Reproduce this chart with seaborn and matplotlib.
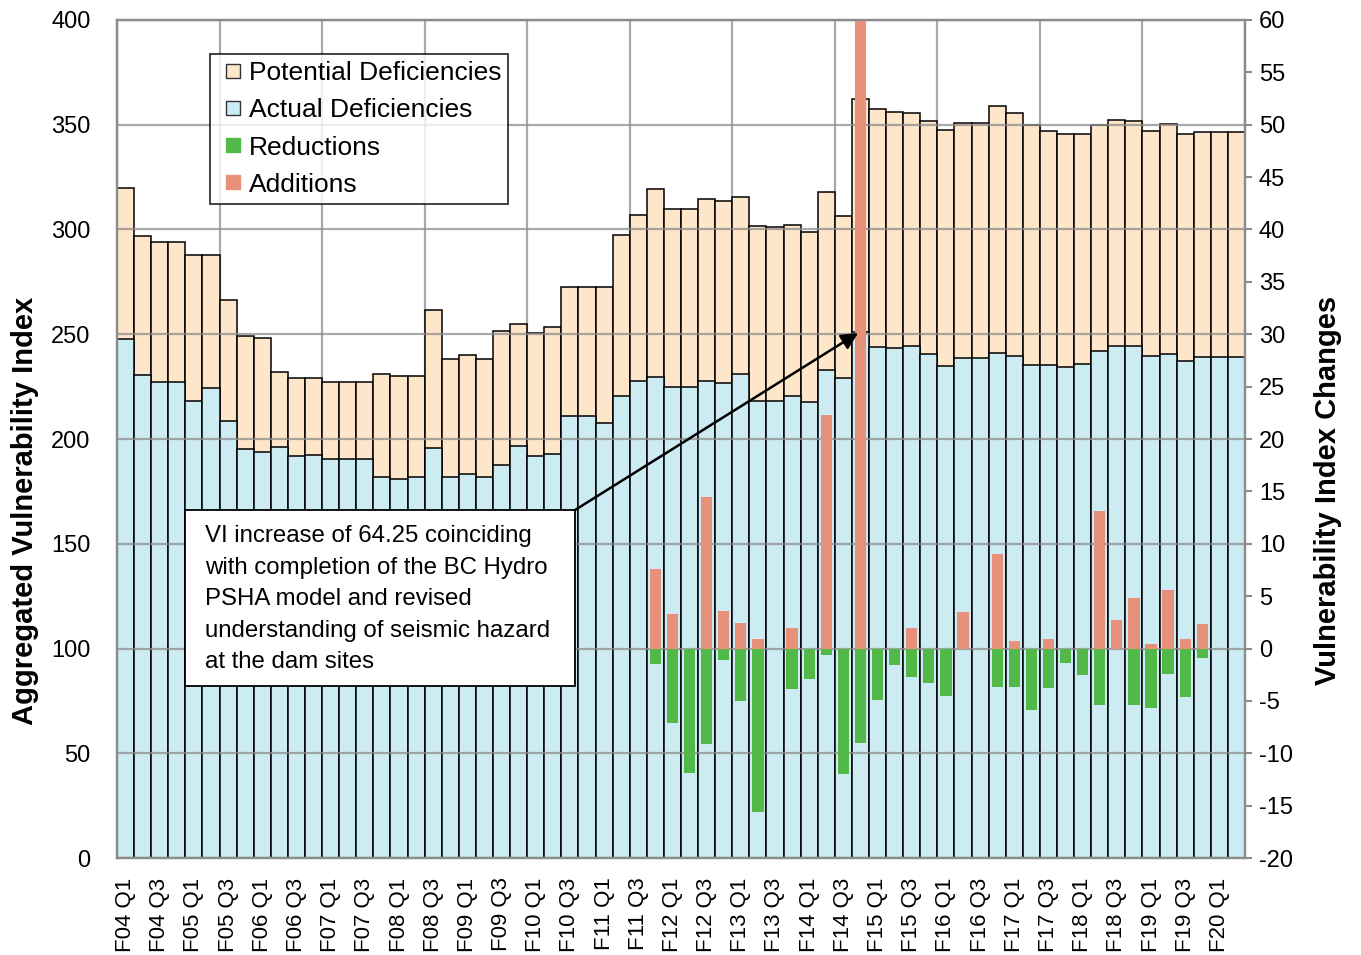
import numpy as np
import pandas as pd
import seaborn as sns
import matplotlib.pyplot as plt
from matplotlib.lines import Line2D
from matplotlib.patches import Rectangle

# --- DATOS ---
quarters = [f"F{y:02d} Q{q}" for y in range(4, 21) for q in range(1, 5)][:66]

total_vi = [320, 297, 294, 294, 288, 288, 266.5, 249, 248, 232, 229, 229,
            227, 227, 227, 231, 230, 230, 261.5, 238, 240, 238, 251.5, 255,
            250.5, 253.5, 272.5, 272.5, 272.5, 297.5, 307, 319.5, 310, 310,
            314.5, 313.5, 315.5, 301.5, 301, 302, 299, 318, 306.5, 362.5,
            357.5, 356, 355.5, 352, 347.5, 351, 351, 359, 355.5, 350,
            347, 345.5, 345.5, 350, 352.5, 352, 347, 350.5, 345.5, 346.5,
            346.5, 346.5]
actual_vi = [247.5, 230.5, 227, 227, 218, 224.5, 208.5, 195, 194, 196, 192, 192.5,
             190.5, 190.5, 190.5, 182, 181, 182, 195.5, 182, 183.5, 182, 187.5, 196.5,
             192, 193, 211, 211, 207.5, 220.5, 227.5, 229.5, 225, 225,
             227.5, 226.5, 231, 218, 218, 220.5, 217.5, 233, 229, 251,
             244, 243.5, 244.5, 240.5, 235, 238.5, 238.5, 241, 239.5, 235.5,
             235.5, 234.5, 236, 242, 244.5, 244.5, 239.5, 240.5, 237, 239,
             239, 239]
additions = [0] * 31 + [7.6, 3.3, 0, 14.5, 3.6, 2.4, 0.9, 0, 2.0, 0,
                        22.3, 0, 64.25, 0, 0, 2.0, 0, 0, 3.5, 0,
                        9.0, 0.7, 0, 0.9, 0, 0, 13.1, 2.7, 4.8, 0.4,
                        5.6, 0.9, 2.3, 0, 0]
reductions = [0] * 31 + [-1.5, -7.1, -11.9, -9.1, -1.1, -5.0, -15.6, 0, -3.9, -2.9,
                         -0.6, -12.0, -9.0, -4.9, -1.6, -2.7, -3.3, -4.5, 0, 0,
                         -3.7, -3.7, -5.9, -3.8, -1.4, -2.5, -5.4, 0, -5.4, -5.7,
                         -2.4, -4.6, -0.9, 0, 0]

# --- ESTILO ---
C_POTENCIAL = "#FDE6C9"
C_ACTUAL = "#CCEBF2"
C_REDUCCION = "#52B848"
C_ADICION = "#E8917A"
C_GRID = "#8C8C8C"

sns.set_theme(style="white")
plt.rcParams['font.family'] = ['Liberation Sans', 'DejaVu Sans']
plt.rcParams['axes.unicode_minus'] = False
plt.rcParams['text.color'] = 'black'

df = pd.DataFrame({"quarter": quarters, "total": total_vi, "actual": actual_vi,
                   "add": additions, "red": reductions})

fig = plt.figure(figsize=(13.61, 9.55), dpi=100)
ax = fig.add_axes([117 / 1361, 1 - 858 / 955, 1128 / 1361, 838 / 955])

sns.barplot(data=df, x="quarter", y="total", ax=ax, color=C_POTENCIAL, width=1.0,
            saturation=1, edgecolor="black", linewidth=1.1, errorbar=None)
sns.barplot(data=df, x="quarter", y="actual", ax=ax, color=C_ACTUAL, width=1.0,
            saturation=1, edgecolor="black", linewidth=1.1, errorbar=None)

ax2 = ax.twinx()
sns.barplot(data=df, x="quarter", y="add", ax=ax2, color=C_ADICION, width=0.66,
            saturation=1, linewidth=0, errorbar=None)
sns.barplot(data=df, x="quarter", y="red", ax=ax2, color=C_REDUCCION, width=0.66,
            saturation=1, linewidth=0, errorbar=None)

# ejes
ax.set_ylim(0, 400)
ax2.set_ylim(-20, 60)
ax.set_xlim(-0.5, len(quarters) - 0.5)
ax2.set_xlim(-0.5, len(quarters) - 0.5)
ax.set_yticks(np.arange(0, 401, 50))
ax2.set_yticks(np.arange(-20, 61, 5))
ax.set_xticks(range(0, len(quarters), 2))
ax.set_xticklabels(quarters[::2], rotation=90, fontsize=16)
ax.tick_params(axis="x", length=0, pad=14, labelcolor="black")
ax.tick_params(axis="y", length=0, pad=19, labelsize=17, labelcolor="black")
ax2.tick_params(axis="y", length=5, width=1.5, color=C_GRID, pad=5, labelsize=17,
                labelcolor="black")
ax.set_xlabel("")
ax.set_ylabel("")
ax2.set_ylabel("")

# rejilla por encima de las barras
ax.set_axisbelow(False)
ax.yaxis.grid(True, color=C_GRID, linewidth=1.6, alpha=0.75)
for k in range(0, len(quarters) + 1, 6):
    ax.axvline(k - 0.5, color=C_GRID, linewidth=1.6, alpha=0.75, zorder=0.5)

for a in (ax, ax2):
    for s in a.spines.values():
        s.set_color(C_GRID)
        s.set_linewidth(1.6)

fig.text(25 / 1361, 1 - 511 / 955, "Aggregated Vulnerability Index", rotation=90,
         ha="center", va="center", fontsize=21, fontweight="bold")
fig.text(1328 / 1361, 1 - 490 / 955, "Vulnerability Index Changes", rotation=90,
         ha="center", va="center", fontsize=21, fontweight="bold")

# leyenda (marcadores cuadrados)
def cuadro(color, borde):
    return Line2D([], [], linestyle="none", marker="s", markersize=9.5,
                  markerfacecolor=color, markeredgecolor=borde, markeredgewidth=1)

handles = [cuadro(C_POTENCIAL, "#333333"), cuadro(C_ACTUAL, "#333333"),
           cuadro(C_REDUCCION, C_REDUCCION), cuadro(C_ADICION, C_ADICION)]
labels = ["Potential Deficiencies", "Actual Deficiencies", "Reductions", "Additions"]
leg = ax2.legend(handles, labels, loc="upper left",
                 bbox_to_anchor=((210 - 117) / 1128, (858 - 54) / 838),
                 borderaxespad=0, fontsize=19, frameon=True, fancybox=False,
                 handlelength=1.2, handletextpad=0.0,
                 labelspacing=0.5, borderpad=0.27)
leg.get_frame().set_edgecolor("black")
leg.get_frame().set_linewidth(1.3)

# anotación
texto = ("VI increase of 64.25 coinciding\nwith completion of the BC Hydro\n"
         "PSHA model and revised\nunderstanding of seismic hazard\nat the dam sites")
ax2.add_patch(Rectangle(((185 - 117) / 1128, (858 - 686) / 838), 390 / 1128, 176 / 838,
                        transform=ax2.transAxes, facecolor="white", edgecolor="black",
                        linewidth=1.3, zorder=4))
ax2.annotate("", xy=(42.86, 250.6), xycoords=ax.transData,
             xytext=(26.3, 166.1), textcoords=ax.transData,
             arrowprops=dict(arrowstyle="-|>", color="black", lw=1.8,
                             mutation_scale=25, shrinkA=0, shrinkB=0), zorder=5)
ax2.text((205 - 117) / 1128, (858 - 525) / 838, texto, transform=ax2.transAxes,
         ha="left", va="top", fontsize=17.3, linespacing=1.56, zorder=6)

fig.savefig("out.png", dpi=100)
plt.close(fig)
